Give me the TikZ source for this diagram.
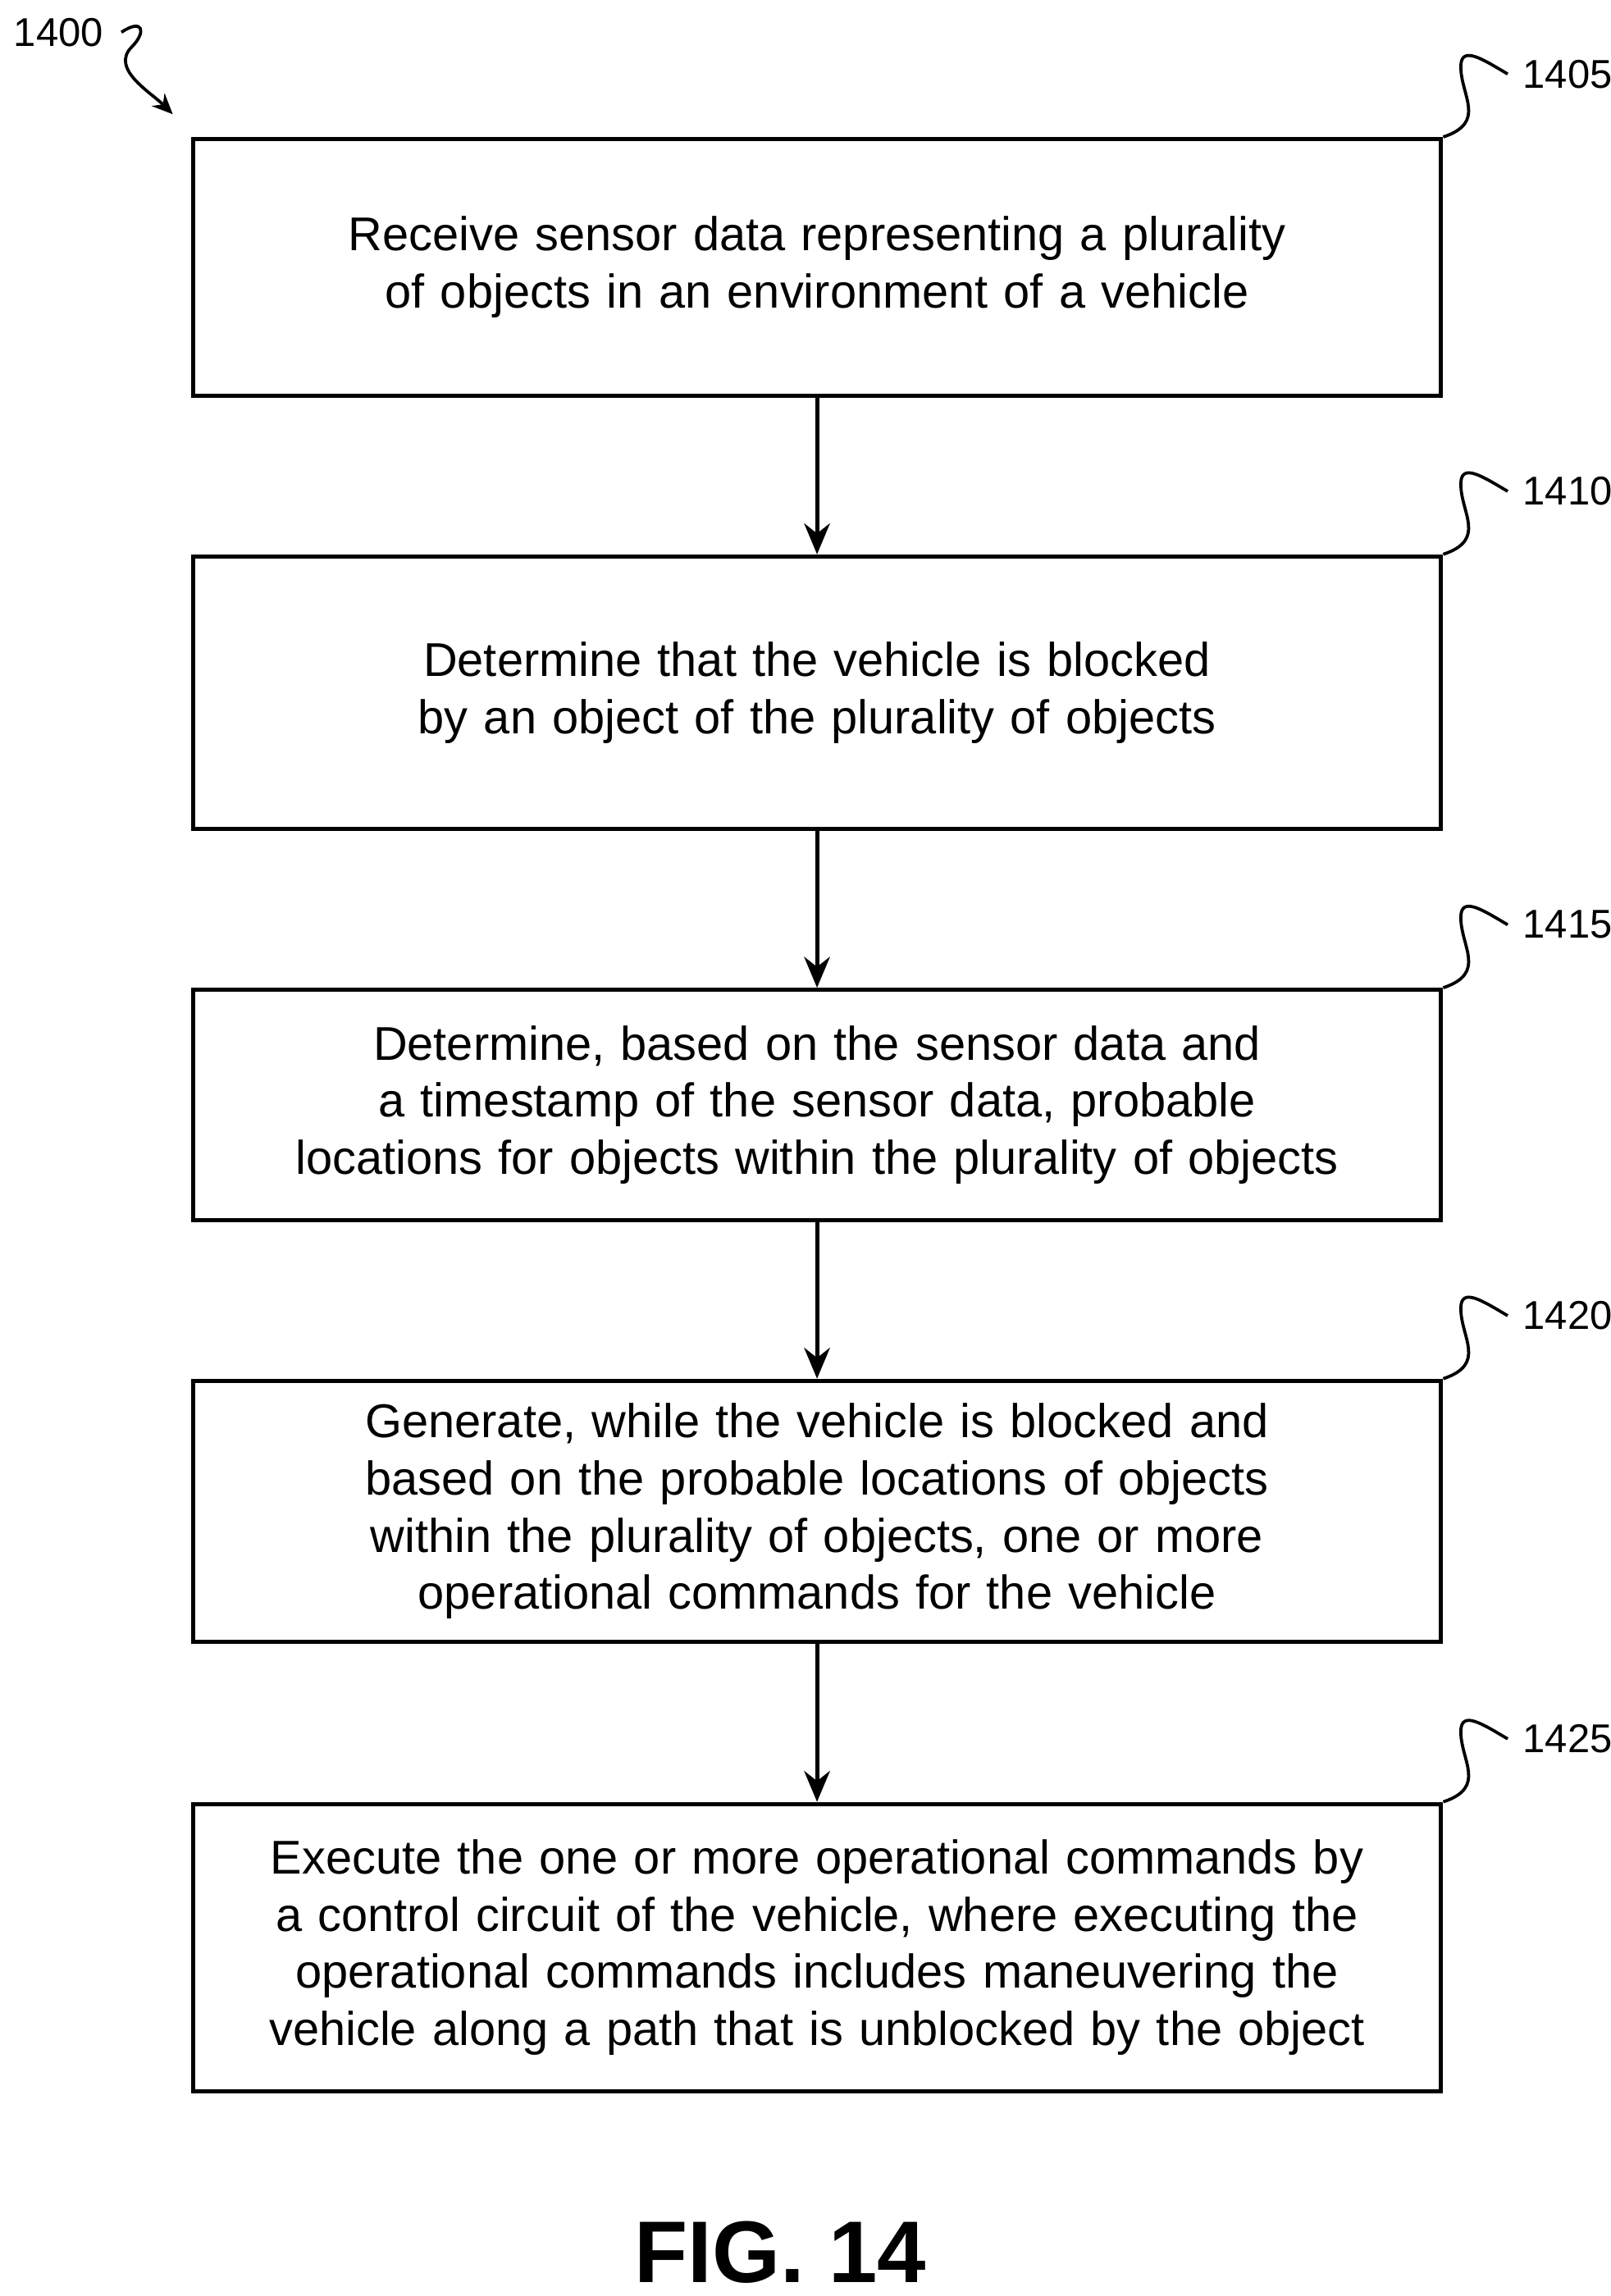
\documentclass[tikz,border=0pt]{standalone}
\usepackage{fontspec}
\setmainfont{Liberation Sans}
\usetikzlibrary{arrows.meta}
\hyphenpenalty=10000
\exhyphenpenalty=10000
\begin{document}
\begin{tikzpicture}[x=0.01cm,y=-0.01cm,
  box/.style={draw,line width=0.8pt,minimum width=8.52cm,inner sep=0pt,text width=8.45cm,align=center,font=\fontsize{9.2}{11.1}\selectfont},
  arr/.style={-{Stealth[length=6pt,width=5pt]},line width=0.8pt},
  lbl/.style={font=\fontsize{7.8}{9}\selectfont,anchor=west},
  sq/.style={line width=0.6pt}]
\useasboundingbox (0,0) rectangle (1100,1568);
\node[box,minimum height=1.75cm] (b1) at (558,182.5) {Receive sensor data representing a plurality of objects in an environment of a vehicle};
\node[box,minimum height=1.86cm] (b2) at (558,473) {Determine that the vehicle is blocked by an object of the plurality of objects};
\node[box,minimum height=1.57cm] (b3) at (558,754.5) {Determine, based on the sensor data and a timestamp of the sensor data, probable locations for objects within the plurality of objects};
\node[box,minimum height=1.78cm] (b4) at (558,1032) {Generate, while the vehicle is blocked and based on the probable locations of objects within the plurality of objects, one or more operational commands for the vehicle};
\node[box,minimum height=1.96cm] (b5) at (558,1330) {Execute the one or more operational commands by a control circuit of the vehicle, where executing the operational commands includes maneuvering the vehicle along a path that is unblocked by the object};
\draw[arr] (b1) -- (b2);
\draw[arr] (b2) -- (b3);
\draw[arr] (b3) -- (b4);
\draw[arr] (b4) -- (b5);
\foreach \b/\t/\n in {b1/1405/l1,b2/1410/l2,b3/1415/l3,b4/1420/l4,b5/1425/l5}{
  \node[lbl] (\n) at ([xshift=0.42cm,yshift=0.43cm]\b.north east) {\t};
  \draw[sq] (\b.north east) .. controls ([xshift=0.3cm,yshift=0.1cm]\b.north east) and ([xshift=-0.3cm,yshift=-0.15cm]\n.west) .. ([xshift=-0.3cm,yshift=0.05cm]\n.west) .. controls ([xshift=-0.3cm,yshift=0.2cm]\n.west) and ([xshift=-0.15cm,yshift=0.1cm]\n.west) .. ([xshift=0.02cm]\n.west);
}
\node[font=\fontsize{7.8}{9}\selectfont] (l0) at (40,22) {1400};
\coordinate (t0) at (118,78);
\draw[sq,-{Stealth[length=4pt,width=3.5pt]}] (l0.east) .. controls +(15,-10) and +(10,-10) .. (90,32) .. controls +(-15,15) and +(-15,-15) .. (t0);
\node[font=\bfseries\fontsize{17}{20}\selectfont] (fig) at (533,1538) {FIG. 14};
\end{tikzpicture}
\end{document}
